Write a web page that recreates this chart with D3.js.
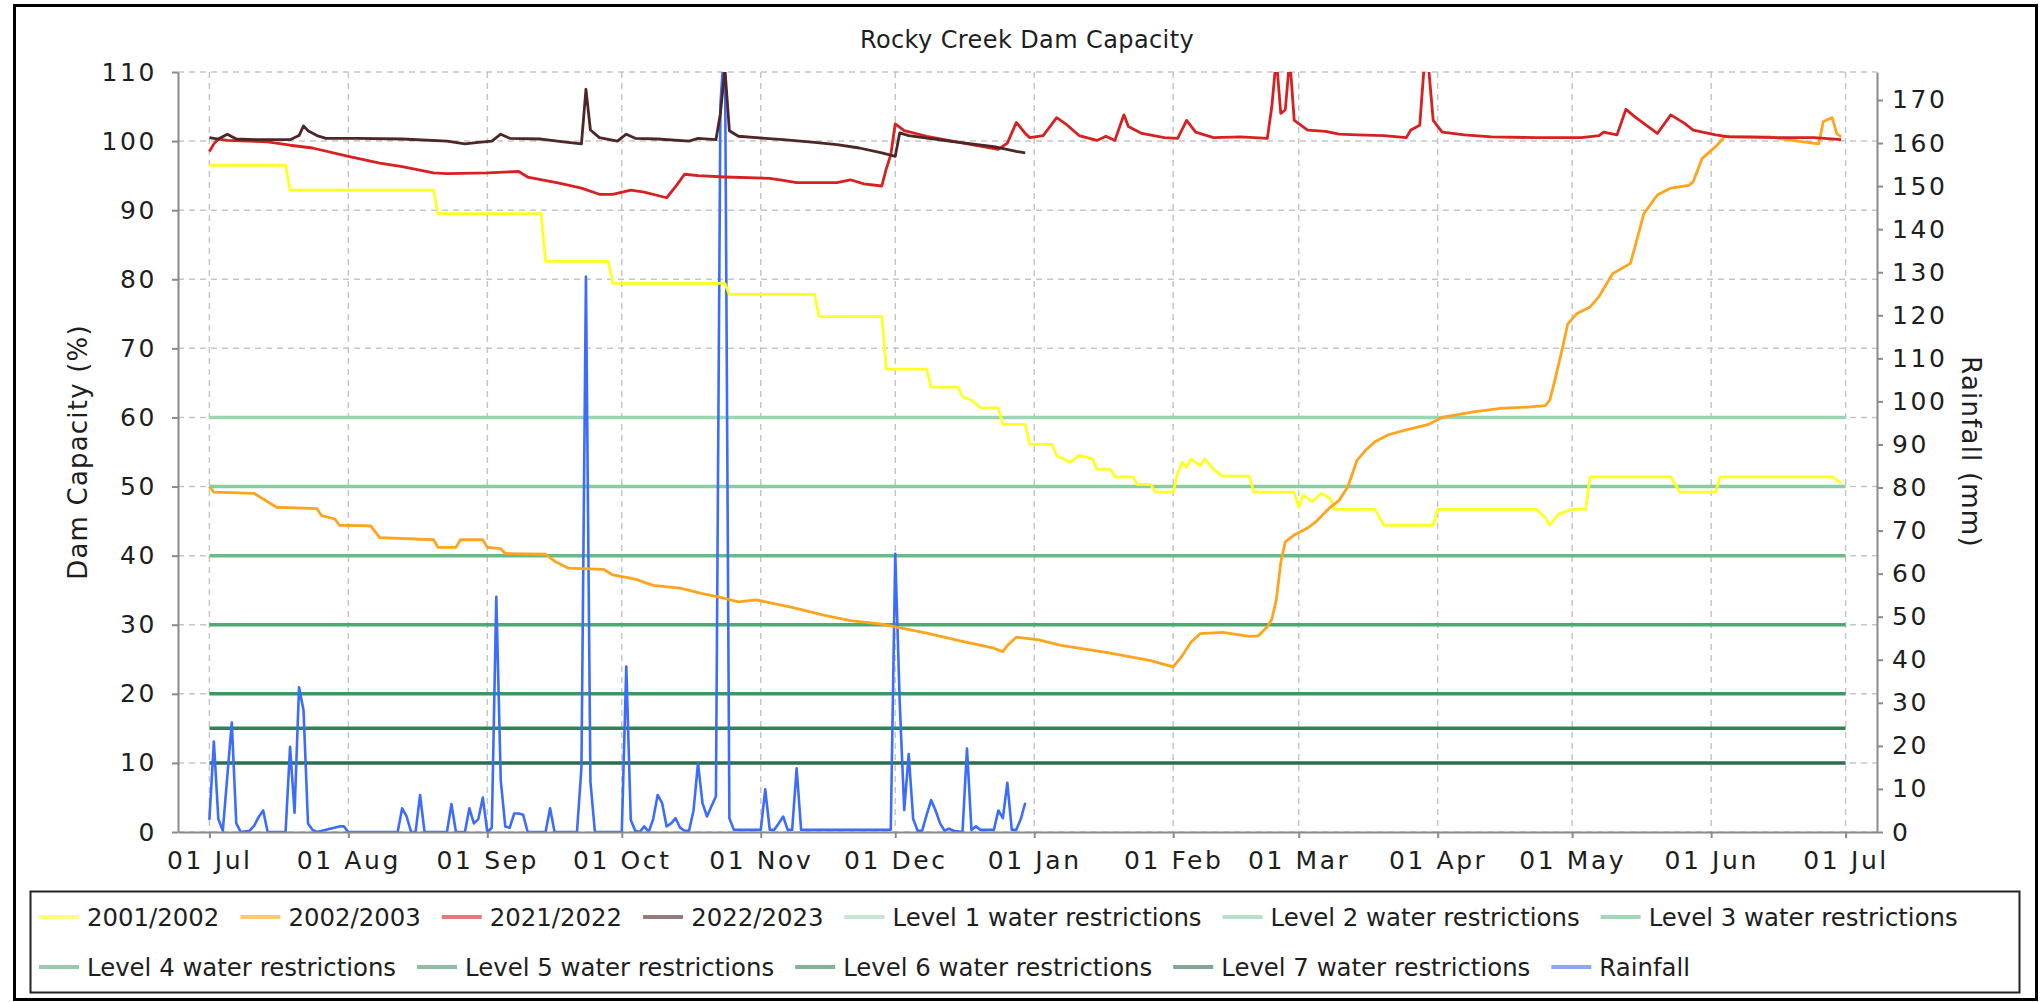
<!DOCTYPE html>
<html>
<head>
<meta charset="utf-8">
<script src="https://cdn.jsdelivr.net/npm/d3@7"></script>
<style>
  body { margin: 0; background: #fff; }
  text { font-family: "DejaVu Sans", sans-serif; fill: #1e1e1e; }
</style>
</head>
<body>
<svg id="chart" width="2043" height="1002"></svg>
<script>
// ---- data (season Jul -> Jun, "MM-DD") ----
var capTicks = [0, 10, 20, 30, 40, 50, 60, 70, 80, 90, 100, 110];
var rainTicks = [0, 10, 20, 30, 40, 50, 60, 70, 80, 90, 100, 110, 120, 130, 140, 150, 160, 170];

var season0102 = [["07-01",96.5],["07-18",96.5],["07-19",92.9],["08-20",92.9],["08-21",89.5],["09-13",89.5],["09-14",82.6],["09-28",82.6],["09-29",79.4],["10-24",79.4],["10-25",77.8],["11-13",77.8],["11-14",74.6],["11-28",74.6],["11-29",67],["12-08",67],["12-09",64.4],["12-15",64.4],["12-16",63],["12-18",62.5],["12-20",61.4],["12-24",61.4],["12-25",59],["12-30",59],["12-31",56.1],["01-05",56.1],["01-06",54.5],["01-09",53.5],["01-11",54.5],["01-14",54],["01-15",52.5],["01-18",52.5],["01-19",51.4],["01-23",51.4],["01-24",50.3],["01-27",50.3],["01-28",49.2],["02-01",49.2],["02-02",52],["02-03",53.5],["02-04",52.8],["02-05",54],["02-07",53],["02-08",54],["02-10",52.5],["02-12",51.5],["02-18",51.5],["02-19",49.2],["02-28",49.2],["03-01",47],["03-02",48.8],["03-04",47.8],["03-06",49],["03-08",48.3],["03-09",46.7],["03-18",46.7],["03-20",44.4],["03-31",44.4],["04-01",46.7],["04-23",46.7],["04-25",45.5],["04-26",44.4],["04-28",46],["05-01",46.7],["05-04",46.7],["05-05",51.4],["05-23",51.4],["05-25",49.2],["06-02",49.2],["06-03",51.4],["06-28",51.4],["06-30",50.5]];

var season0203 = [["07-01",50],["07-02",49.2],["07-11",49],["07-13",48.2],["07-16",47],["07-25",46.8],["07-26",45.8],["07-29",45.3],["07-30",44.4],["08-06",44.3],["08-08",42.6],["08-20",42.3],["08-21",41.2],["08-25",41.2],["08-26",42.3],["08-31",42.3],["09-01",41.2],["09-04",41],["09-05",40.3],["09-14",40.2],["09-16",39.2],["09-19",38.2],["09-27",38],["09-29",37.2],["10-04",36.6],["10-08",35.7],["10-14",35.3],["10-19",34.5],["10-24",33.8],["10-27",33.3],["10-31",33.6],["11-08",32.5],["11-15",31.4],["11-21",30.6],["11-28",30.1],["12-08",28.8],["12-16",27.6],["12-23",26.6],["12-25",26.1],["12-26",27],["12-28",28.2],["01-02",27.8],["01-07",27],["01-17",26],["01-27",24.8],["02-01",23.9],["02-03",25.5],["02-05",27.5],["02-07",28.7],["02-12",28.9],["02-18",28.3],["02-20",28.4],["02-22",29.7],["02-23",30.8],["02-24",33.6],["02-25",39],["02-26",42],["02-28",43],["03-03",44],["03-05",45],["03-08",47],["03-10",48],["03-12",50],["03-14",53.8],["03-16",55.3],["03-18",56.5],["03-21",57.5],["03-25",58.2],["03-30",59],["04-02",60],["04-09",60.8],["04-15",61.3],["04-21",61.5],["04-25",61.7],["04-26",62.5],["04-27",65],["04-29",70.5],["04-30",73.5],["05-02",75],["05-05",76],["05-07",77.5],["05-10",80.8],["05-14",82.3],["05-15",84.7],["05-17",89.5],["05-20",92.2],["05-23",93.2],["05-27",93.6],["05-28",94.1],["05-30",97.5],["06-02",99.2],["06-03",99.9],["06-04",100.7],["06-14",100.6],["06-19",100.1],["06-25",99.6],["06-26",102.8],["06-28",103.4],["06-29",101.1],["06-30",100.6]];

var season2122 = [["07-01",98.5],["07-02",99.6],["07-03",100.3],["07-05",100.1],["07-14",99.9],["07-19",99.4],["07-24",99],["08-01",97.8],["08-08",96.8],["08-13",96.3],["08-20",95.4],["08-23",95.3],["09-01",95.4],["09-08",95.6],["09-10",94.8],["09-17",93.9],["09-22",93.2],["09-26",92.3],["09-29",92.3],["10-03",92.9],["10-06",92.6],["10-11",91.8],["10-13",93.4],["10-15",95.2],["10-18",95],["10-24",94.8],["11-03",94.6],["11-06",94.3],["11-09",94],["11-18",94],["11-21",94.4],["11-24",93.8],["11-28",93.5],["11-29",96],["11-30",98],["12-01",102.5],["12-03",101.5],["12-08",100.7],["12-18",99.5],["12-24",98.8],["12-26",99.7],["12-28",102.7],["12-30",101.1],["12-31",100.5],["01-03",100.8],["01-06",103.4],["01-08",102.5],["01-11",100.8],["01-15",100.1],["01-17",100.7],["01-19",100.1],["01-21",103.8],["01-22",102.1],["01-25",101.1],["01-30",100.5],["02-02",100.4],["02-04",103],["02-06",101.3],["02-10",100.5],["02-16",100.6],["02-22",100.4],["02-23",105],["02-24",112],["02-25",104],["02-26",104.5],["02-27",112],["02-28",103],["03-03",101.6],["03-07",101.4],["03-10",101],["03-14",100.9],["03-20",100.8],["03-25",100.5],["03-26",101.6],["03-28",102.3],["03-29",111],["03-30",110.5],["03-31",103],["04-02",101.3],["04-07",100.9],["04-13",100.6],["04-23",100.5],["05-03",100.5],["05-07",100.8],["05-08",101.3],["05-11",100.9],["05-13",104.6],["05-15",103.5],["05-20",101.1],["05-23",103.8],["05-26",102.6],["05-28",101.6],["06-02",100.9],["06-05",100.6],["06-16",100.5],["06-24",100.5],["06-30",100.2]];

var season2223 = [["07-01",100.5],["07-03",100.3],["07-05",101],["07-07",100.3],["07-11",100.2],["07-19",100.2],["07-21",100.8],["07-22",102.2],["07-23",101.5],["07-25",100.8],["07-27",100.4],["08-03",100.4],["08-13",100.3],["08-23",100],["08-27",99.6],["08-30",99.8],["09-02",100],["09-04",101],["09-06",100.4],["09-13",100.3],["09-18",99.9],["09-22",99.6],["09-23",107.5],["09-24",101.6],["09-26",100.5],["09-30",100],["10-02",101],["10-04",100.4],["10-09",100.3],["10-16",100],["10-18",100.4],["10-22",100.2],["10-23",104],["10-24",110.5],["10-25",101.5],["10-27",100.7],["10-31",100.5],["11-06",100.2],["11-13",99.8],["11-18",99.5],["11-23",99],["11-28",98.3],["12-01",97.8],["12-02",101.2],["12-04",100.8],["12-13",100],["12-23",99.2],["12-28",98.5],["12-30",98.3]];

var rainfall = [["07-01",2.8],["07-02",21],["07-03",3],["07-04",0.3],["07-05",13],["07-06",25.4],["07-07",2],["07-08",0],["07-10",0.3],["07-11",1.5],["07-12",3.5],["07-13",5],["07-14",0],["07-18",0],["07-19",19.8],["07-20",4.5],["07-21",33.6],["07-22",28.3],["07-23",2],["07-24",0.5],["07-25",0],["07-30",1.3],["07-31",1.3],["08-01",0],["08-12",0],["08-13",5.5],["08-14",3.6],["08-15",0],["08-16",0],["08-17",8.6],["08-18",0],["08-23",0],["08-24",6.5],["08-25",0],["08-27",0],["08-28",5.5],["08-29",2],["08-30",3],["08-31",8],["09-01",0],["09-02",1],["09-03",54.6],["09-04",12],["09-05",1.3],["09-06",1],["09-07",4.3],["09-08",4.3],["09-09",4],["09-10",0],["09-14",0],["09-15",5.5],["09-16",0],["09-21",0],["09-22",15],["09-23",129],["09-24",11.7],["09-25",0],["10-01",0],["10-02",38.4],["10-03",2.8],["10-04",0.3],["10-05",0],["10-06",1.3],["10-07",0],["10-08",3],["10-09",8.6],["10-10",6.7],["10-11",1.3],["10-12",2],["10-13",3.2],["10-14",1],["10-15",0.3],["10-16",0.3],["10-17",5],["10-18",16],["10-19",6.7],["10-20",3.6],["10-21",6],["10-22",8.3],["10-23",169],["10-24",185],["10-25",3.2],["10-26",0.5],["11-01",0.5],["11-02",9.9],["11-03",0.5],["11-04",0.5],["11-05",2],["11-06",3.6],["11-07",0.5],["11-08",0.5],["11-09",14.8],["11-10",0.5],["11-30",0.5],["12-01",64.6],["12-02",30],["12-03",5.1],["12-04",18.1],["12-05",3],["12-06",0.3],["12-07",0.3],["12-08",4],["12-09",7.4],["12-10",5],["12-11",2],["12-12",0.3],["12-13",0.8],["12-14",0.3],["12-16",0],["12-17",19.4],["12-18",0.5],["12-19",1.3],["12-20",0.5],["12-23",0.5],["12-24",5],["12-25",3.2],["12-26",11.4],["12-27",0.5],["12-28",0.5],["12-29",3],["12-30",6.8]];

var levelNames = ["Level 1 water restrictions","Level 2 water restrictions","Level 3 water restrictions","Level 4 water restrictions","Level 5 water restrictions","Level 6 water restrictions","Level 7 water restrictions"];
var levelValues = [60, 50, 40, 30, 20, 15, 10];
var levelColors = ["#9ad6b0","#86cd9f","#66bb86","#4fa872","#3f9663","#338256","#2b6e49"];

// ---- layout ----
var plot = { left: 178, right: 1877, top: 72, bottom: 832 };
var svg = d3.select("#chart");

// put every season on the same Jul..Jun axis
function parseDay(s) {
  var p = s.split("-").map(Number);
  return new Date(Date.UTC(p[0] >= 7 ? 2001 : 2002, p[0] - 1, p[1]));
}
var jul1 = new Date(Date.UTC(2001, 6, 1));
var jul1Next = new Date(Date.UTC(2002, 6, 1));

var x = d3.scaleUtc()
  .domain([d3.utcDay.offset(jul1, -7), d3.utcDay.offset(jul1Next, 7)])
  .range([plot.left, plot.right]);
var yCap = d3.scaleLinear().domain([0, 110]).range([plot.bottom, plot.top]);
var yRain = d3.scaleLinear().domain([0, 176.5]).range([plot.bottom, plot.top]);

svg.append("rect").attr("width", 2043).attr("height", 1002).attr("fill", "#fff");

// outer frame
svg.append("rect")
  .attr("x", 14.5).attr("y", 5.5).attr("width", 2022).attr("height", 994)
  .attr("fill", "none").attr("stroke", "#000").attr("stroke-width", 3);

// title
svg.append("text")
  .attr("x", 1027).attr("y", 48)
  .attr("text-anchor", "middle")
  .style("font-size", "24px")
  .style("letter-spacing", "0.4px")
  .text("Rocky Creek Dam Capacity");

var months = d3.utcMonth.range(jul1, d3.utcDay.offset(jul1Next, 1));

// grid
var grid = svg.append("g").attr("stroke", "#c6c6c6").attr("stroke-width", 1.5).attr("stroke-dasharray", "6,5");
grid.selectAll(".gx").data(months).enter().append("line")
  .attr("x1", d => x(d)).attr("x2", d => x(d))
  .attr("y1", plot.top).attr("y2", plot.bottom);
grid.selectAll(".gy").data(capTicks).enter().append("line")
  .attr("x1", plot.left).attr("x2", plot.right)
  .attr("y1", d => yCap(d)).attr("y2", d => yCap(d));

// clip for the plot
svg.append("clipPath").attr("id", "clip")
  .append("rect")
  .attr("x", plot.left).attr("y", plot.top)
  .attr("width", plot.right - plot.left).attr("height", plot.bottom - plot.top);
var area = svg.append("g").attr("clip-path", "url(#clip)");

// restriction levels
area.selectAll(".level").data(levelValues).enter().append("line")
  .attr("x1", x(jul1)).attr("x2", x(jul1Next))
  .attr("y1", d => yCap(d)).attr("y2", d => yCap(d))
  .attr("stroke", (d, i) => levelColors[i])
  .attr("stroke-width", 3.5);

var capLine = d3.line().x(d => x(parseDay(d[0]))).y(d => yCap(d[1]));
var rainLine = d3.line().x(d => x(parseDay(d[0]))).y(d => yRain(d[1]));

var seasons = [
  { name: "2001/2002", data: season0102, color: "#ffff22" },
  { name: "2002/2003", data: season0203, color: "#ffa41c" },
  { name: "2021/2022", data: season2122, color: "#d82020" },
  { name: "2022/2023", data: season2223, color: "#4e2626" }
];

area.append("path").datum(rainfall)
  .attr("d", rainLine)
  .attr("fill", "none").attr("stroke", "#3c6cff").attr("stroke-width", 2.6)
  .attr("stroke-linejoin", "round");

seasons.forEach(function(s) {
  area.append("path").datum(s.data)
    .attr("d", capLine)
    .attr("fill", "none").attr("stroke", s.color).attr("stroke-width", 2.8)
    .attr("stroke-linejoin", "round");
});

// axes
function styleAxis(g) {
  g.select(".domain").attr("stroke", "#8a8a8a").attr("stroke-width", 2);
  g.selectAll(".tick line").attr("stroke", "#8a8a8a").attr("stroke-width", 2);
  g.selectAll(".tick text")
    .attr("fill", "#1e1e1e")
    .style("font-family", "'DejaVu Sans', sans-serif")
    .style("font-size", "25px")
    .style("letter-spacing", "2.6px");
}

svg.append("g")
  .attr("transform", "translate(" + plot.left + ",0)")
  .call(d3.axisLeft(yCap).tickValues(capTicks).tickSize(6).tickSizeOuter(0).tickPadding(15))
  .call(styleAxis);

svg.append("g")
  .attr("transform", "translate(" + plot.right + ",0)")
  .call(d3.axisRight(yRain).tickValues(rainTicks).tickSize(6).tickSizeOuter(0).tickPadding(9))
  .call(styleAxis);

svg.append("g")
  .attr("transform", "translate(0," + plot.bottom + ")")
  .call(d3.axisBottom(x).tickValues(months).tickFormat(d3.utcFormat("%d %b")).tickSize(6).tickSizeOuter(0).tickPadding(13))
  .call(styleAxis);

// axis titles
svg.append("text")
  .attr("transform", "translate(87,452) rotate(-90)")
  .attr("text-anchor", "middle")
  .style("font-size", "26px").style("letter-spacing", "1.2px")
  .text("Dam Capacity (%)");

svg.append("text")
  .attr("transform", "translate(1962,452) rotate(90)")
  .attr("text-anchor", "middle")
  .style("font-size", "26px").style("letter-spacing", "1.2px")
  .text("Rainfall (mm)");

// legend
svg.append("rect")
  .attr("x", 30.5).attr("y", 891.5).attr("width", 1989).attr("height", 101)
  .attr("fill", "#fff").attr("stroke", "#222").attr("stroke-width", 2);

var legendItems = seasons.map(s => ({ name: s.name, color: s.color }))
  .concat(levelNames.map((n, i) => ({ name: n, color: levelColors[i] })))
  .concat([{ name: "Rainfall", color: "#3c6cff" }]);
var rows = [legendItems.slice(0, 7), legendItems.slice(7)];
var rowY = [917, 967];

rows.forEach(function(row, r) {
  var cx = 39;
  row.forEach(function(item) {
    var g = svg.append("g");
    g.append("line")
      .attr("x1", cx).attr("x2", cx + 40)
      .attr("y1", rowY[r]).attr("y2", rowY[r])
      .attr("stroke", item.color).attr("stroke-width", 4).attr("opacity", 0.6);
    var t = g.append("text")
      .attr("x", cx + 48).attr("y", rowY[r])
      .attr("dy", "0.36em")
      .style("font-size", "24.4px")
      .text(item.name);
    cx += 48 + t.node().getComputedTextLength() + 21;
  });
});
</script>
</body>
</html>
